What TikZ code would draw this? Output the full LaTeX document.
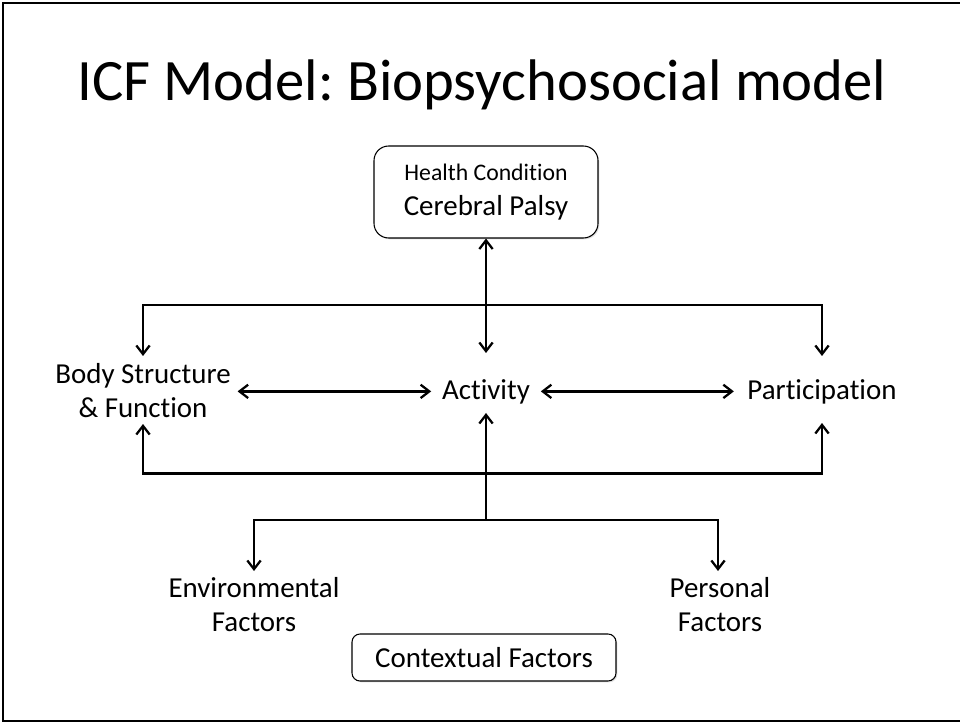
\documentclass[tikz,border=0pt]{standalone}
\usepackage{fontspec}
\setmainfont{Carlito}[Ligatures={NoCommon}]
\usetikzlibrary{arrows.meta,shadows}
\frenchspacing
\begin{document}
\begin{tikzpicture}[x=0.75pt,y=-0.75pt,
  conn/.style={line width=2.2pt,-, arrows={-Straight Barb[length=6.5pt,width=10pt,line width=1.7pt]}},
  biconn/.style={line width=2.2pt, arrows={Straight Barb[length=6.5pt,width=10pt,line width=1.7pt]-Straight Barb[length=6.5pt,width=10pt,line width=1.7pt]}},
  lbl/.style={font=\fontsize{21.7}{25.5}\selectfont, align=center, inner sep=0pt},
  roundbox/.style={draw=black, line width=0.8pt, fill=white,
    drop shadow={shadow xshift=1pt, shadow yshift=-1pt, opacity=0.25}}
]
\useasboundingbox (0,0) rectangle (960,723);
% slide frame
\draw[line width=1pt] (960,3) -- (3,3) -- (3,721) -- (960,721);

% title
\node[anchor=base, inner sep=0pt, font=\fontsize{44}{52}\selectfont] (title) at (482,101) {ICF Model: Biopsychosocial model};

% health condition
\node[roundbox, rounded corners=11pt, minimum width=168pt, minimum height=69pt, align=center, inner sep=0pt,
  font=\fontsize{17.8}{26.25}\selectfont] (health) at (486,192)
  {Health Condition\\ \fontsize{21.7}{26.25}\selectfont Cerebral Palsy};

% main row
\node[lbl] (body) at (143,391) {Body Structure\\ \& Function};
\node[lbl, anchor=base, inner xsep=8pt] (act) at (486,399) {Activity};
\node[lbl, anchor=base, inner xsep=10pt] (part) at (822,399) {Participation};

% factors
\node[lbl] (env) at (254,605) {Environmental\\ Factors};
\node[lbl] (pers) at (720,605) {Personal\\ Factors};

% contextual factors
\node[roundbox, rounded corners=6pt, minimum width=198pt, minimum height=35.25pt, font=\fontsize{21.7}{26}\selectfont, inner sep=0pt] (ctx) at (484,657.5) {Contextual Factors};

% coordinates for connector ends
\coordinate (actN) at (486,353);
\coordinate (actS) at (486,413);
\coordinate (bodyN) at (143,356);
\coordinate (bodyS) at (143,424);
\coordinate (partN) at (822,356);
\coordinate (partS) at (822,423);
\coordinate (topbus) at (486,305);
\coordinate (botbus) at (486,473.5);
\coordinate (lowbus) at (486,520);
\coordinate (envN) at (254,571);
\coordinate (persN) at (718,571);

% connectors
\draw[biconn] (health.south) -- (actN);
\draw[biconn] (bodyN) -- (bodyN |- topbus) -- (partN |- topbus) -- (partN);
\draw[biconn] (bodyS) -- (bodyS |- botbus) -- (partS |- botbus) -- (partS);
\draw[biconn] ([xshift=5pt]body.east |- act.west) -- (act.west);
\draw[biconn] (act.east) -- (act.east -| part.west);
\draw[conn] (lowbus) -- (actS);
\draw[biconn] (envN) -- (envN |- lowbus) -- (persN |- lowbus) -- (persN);
\end{tikzpicture}
\end{document}
